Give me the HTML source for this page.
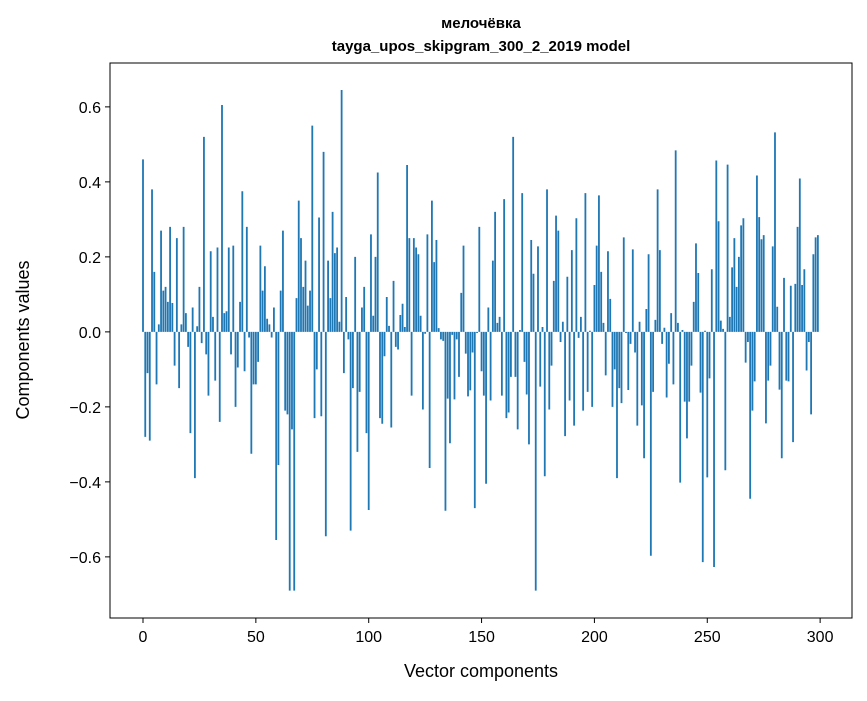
<!DOCTYPE html>
<html><head><meta charset="utf-8"><style>
body{margin:0;background:#fff;}
svg text{font-family:"Liberation Sans","DejaVu Sans",sans-serif;fill:#000;}
</style></head><body>
<svg id="chart" width="867" height="696" xmlns="http://www.w3.org/2000/svg">
<rect width="867" height="696" fill="#fff"/>
<text x="481" y="28" text-anchor="middle" font-size="15" font-weight="bold">мелочёвка</text>
<text x="481" y="51" text-anchor="middle" font-size="15" font-weight="bold">tayga_upos_skipgram_300_2_2019 model</text>
<g id="bars"></g>
<g id="axes"></g>
<text x="481" y="677" text-anchor="middle" font-size="18">Vector components</text>
<text transform="translate(29,340) rotate(-90)" text-anchor="middle" font-size="18">Components values</text>
</svg>
<script>
const values = [0.46,-0.28,-0.11,-0.29,0.38,0.16,-0.14,0.02,0.27,0.11,
0.12,0.08,0.28,0.077,-0.09,0.25,-0.15,0.02,0.28,0.05,
-0.04,-0.27,0.065,-0.39,0.015,0.12,-0.03,0.52,-0.06,-0.17,
0.215,0.04,-0.13,0.225,-0.24,0.605,0.05,0.055,0.225,-0.06,
0.23,-0.2,-0.095,0.08,0.375,-0.105,0.28,-0.015,-0.325,-0.14,
-0.14,-0.08,0.23,0.11,0.175,0.035,0.02,-0.015,0.065,-0.555,
-0.355,0.11,0.27,-0.21,-0.22,-0.69,-0.26,-0.69,0.09,0.35,
0.25,0.12,0.19,0.07,0.11,0.55,-0.23,-0.10,0.305,-0.225,
0.48,-0.545,0.19,0.09,0.32,0.21,0.225,0.027,0.645,-0.11,
0.093,-0.02,-0.53,-0.15,0.2,-0.32,-0.16,0.065,0.12,-0.27,
-0.475,0.26,0.043,0.2,0.425,-0.23,-0.245,-0.065,0.093,0.016,
-0.255,0.136,-0.04,-0.047,0.045,0.075,0.013,0.445,0.25,-0.17,
0.25,0.225,0.207,0.043,-0.207,-0.005,0.26,-0.363,0.35,0.186,
0.245,0.01,-0.02,-0.024,-0.477,-0.178,-0.297,-0.008,-0.18,-0.02,
-0.12,0.104,0.23,-0.058,-0.172,-0.156,-0.055,-0.47,-0.003,0.28,
-0.105,-0.17,-0.405,0.065,-0.183,0.19,0.32,0.024,0.04,-0.17,
0.354,-0.23,-0.215,-0.12,0.52,-0.12,-0.26,0.005,0.37,-0.08,
-0.167,-0.3,0.245,0.155,-0.69,0.228,-0.146,0.013,-0.385,0.38,
-0.207,-0.09,0.136,0.31,0.27,-0.027,0.027,-0.278,0.147,-0.183,
0.218,-0.25,0.303,-0.016,0.04,-0.21,0.37,-0.16,0.003,-0.2,
0.125,0.23,0.364,0.16,0.024,-0.116,0.215,0.088,-0.2,-0.1,
-0.39,-0.15,-0.19,0.252,-0.003,-0.155,-0.032,0.22,-0.055,-0.25,
0.027,-0.196,-0.337,0.061,0.207,-0.597,-0.16,0.032,0.38,0.218,
-0.032,0.011,-0.175,-0.085,0.05,-0.14,0.484,0.024,-0.402,0.005,
-0.186,-0.284,-0.186,-0.09,0.08,0.236,0.157,-0.162,-0.614,0.003,
-0.388,-0.124,0.167,-0.627,0.457,0.295,0.03,0.008,-0.369,0.446,
0.04,0.172,0.25,0.12,0.2,0.284,0.303,-0.082,-0.027,-0.445,
-0.21,-0.132,0.417,0.306,0.247,0.258,-0.244,-0.13,-0.09,0.228,
0.532,0.067,-0.154,-0.337,0.144,-0.13,-0.132,0.123,-0.294,0.128,
0.28,0.409,0.125,0.167,-0.103,-0.027,-0.22,0.207,0.252,0.258];
const xTicks = [0,50,100,150,200,250,300];
const yTicks = [-0.6,-0.4,-0.2,0.0,0.2,0.4,0.6];
const yTickLabels = ["\u22120.6","\u22120.4","\u22120.2","0.0","0.2","0.4","0.6"];

const NS="http://www.w3.org/2000/svg";
const L=110,R=852,T=63,B=618;
const xMin=-14.62,xMax=314.12,yMin=-0.763,yMax=0.717;
const xs=v=>L+(v-xMin)/(xMax-xMin)*(R-L);
const ys=v=>T+(yMax-v)/(yMax-yMin)*(B-T);
const bars=document.getElementById('bars');
values.forEach((v,i)=>{
  const r=document.createElementNS(NS,'rect');
  const x0=xs(i-0.4),x1=xs(i+0.4);
  const y0=ys(Math.max(v,0)),y1=ys(Math.min(v,0));
  r.setAttribute('x',x0);r.setAttribute('width',x1-x0);
  r.setAttribute('y',y0);r.setAttribute('height',Math.max(y1-y0,0.3));
  r.setAttribute('fill','#1f77b4');
  
  
  bars.appendChild(r);
});
const axes=document.getElementById('axes');
const frame=document.createElementNS(NS,'rect');
frame.setAttribute('x',L);frame.setAttribute('y',T);frame.setAttribute('width',R-L);frame.setAttribute('height',B-T);
frame.setAttribute('fill','none');frame.setAttribute('stroke','#000');frame.setAttribute('stroke-width','1');


axes.appendChild(frame);
xTicks.forEach(t=>{
  const x=xs(t);
  const ln=document.createElementNS(NS,'line');
  ln.setAttribute('x1',x);ln.setAttribute('x2',x);ln.setAttribute('y1',B);ln.setAttribute('y2',B+5);ln.setAttribute('stroke','#000');
  
  
  axes.appendChild(ln);
  const tx=document.createElementNS(NS,'text');
  tx.setAttribute('x',x);tx.setAttribute('y',B+24);tx.setAttribute('text-anchor','middle');tx.setAttribute('font-size','16');
  tx.textContent=t;
  
  
  axes.appendChild(tx);
});
yTicks.forEach((t,i)=>{
  const y=ys(t);
  const ln=document.createElementNS(NS,'line');
  ln.setAttribute('x1',L-5);ln.setAttribute('x2',L);ln.setAttribute('y1',y);ln.setAttribute('y2',y);ln.setAttribute('stroke','#000');
  
  
  axes.appendChild(ln);
  const tx=document.createElementNS(NS,'text');
  tx.setAttribute('x',L-9);tx.setAttribute('y',y+6);tx.setAttribute('text-anchor','end');tx.setAttribute('font-size','16');
  tx.textContent=yTickLabels[i];
  
  
  axes.appendChild(tx);
});
</script>
</body></html>
